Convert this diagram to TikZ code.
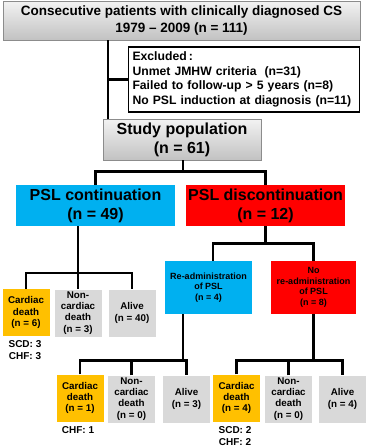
\documentclass[tikz,border=0pt]{standalone}
\usepackage{fontspec}
\setmainfont{Liberation Sans}
\usetikzlibrary{calc}
\definecolor{cyanbox}{HTML}{00B0F0}
\definecolor{redbox}{HTML}{FF0000}
\definecolor{orangebox}{HTML}{FFC000}
\definecolor{greyfill}{HTML}{D9D9D9}
\begin{document}
\begin{tikzpicture}[x=1pt,y=-1pt]
\tikzset{
  base/.style={inner sep=0pt, align=center, font=\bfseries},
  conn/.style={line width=2.6pt, line join=miter},
  headbox/.style={base, draw=black!45, line width=0.6pt, top color=black!5, bottom color=black!24},
  bigtxt/.style={font=\fontsize{16}{19}\selectfont\bfseries},
  bigblue/.style={base, fill=cyanbox, bigtxt, minimum width=159pt, minimum height=41pt},
  bigred/.style={base, fill=redbox, bigtxt, minimum width=159pt, minimum height=41pt},
  midtxt/.style={font=\fontsize{9}{10.6}\selectfont\bfseries},
  child/.style={base, minimum width=47pt, minimum height=47pt, font=\fontsize{9.8}{11.2}\selectfont\bfseries},
  cardbox/.style={child, fill=orangebox},
  greybox/.style={child, fill=greyfill},
  note/.style={base, font=\fontsize{10}{12.5}\selectfont\bfseries}
}
\useasboundingbox (0,0) rectangle (367,447);

\node[headbox, minimum width=357pt, minimum height=39pt, font=\fontsize{13.5}{16.5}\selectfont\bfseries] (top) at (181.5,20.5)
  {Consecutive patients with clinically diagnosed CS\\1979 -- 2009 (n = 111)};
\node[draw=black, line width=1.7pt, fill=white, inner xsep=4pt, inner ysep=0pt, text width=223pt, minimum height=65pt, align=left, font=\fontsize{12.2}{14.5}\selectfont\bfseries] (ex) at (244,79.5)
  {Excluded\,:\\Unmet JMHW criteria\ \ (n=31)\\Failed to follow-up > 5 years (n=8)\\No PSL induction at diagnosis (n=11)};
\node[headbox, bigtxt, minimum width=158pt, minimum height=41pt] (sp) at (182,139.5) {Study population\\(n = 61)};

\node[bigblue] (pc) at (95.5,205.5) {PSL continuation\\(n = 49)};
\node[bigred] (pd) at (265.5,205.5) {PSL discontinuation\\(n = 12)};

\node[cardbox] (cd1) at (26,312.5) {Cardiac\\death\\(n = 6)};
\node[greybox] (nc1) at (78,313) {Non-\\cardiac\\death\\(n = 3)};
\node[greybox] (al1) at (132,313) {Alive\\(n = 40)};
\node[note] (n1) at (25,350) {SCD: 3\\CHF: 3};

\node[base, fill=cyanbox, midtxt, minimum width=87pt, minimum height=53pt] (ra) at (208.5,287.5) {Re-administration\\of PSL\\(n = 4)};
\node[base, fill=redbox, midtxt, minimum width=85pt, minimum height=53pt] (nr) at (313.5,287.5) {No\\re-administration\\of PSL\\(n = 8)};

\node[cardbox] (cd2) at (80,398) {Cardiac\\death\\(n = 1)};
\node[greybox] (nc2) at (131.5,399) {Non-\\cardiac\\death\\(n = 0)};
\node[greybox] (al2) at (186.5,399) {Alive\\(n = 3)};
\node[note] (n2) at (78,430) {CHF: 1};

\node[cardbox] (cd3) at (236.5,398) {Cardiac\\death\\(n = 4)};
\node[greybox] (nc3) at (288.5,399) {Non-\\cardiac\\death\\(n = 0)};
\node[greybox] (al3) at (342.5,399) {Alive\\(n = 4)};
\node[note] (n3) at (235,436) {SCD: 2\\CHF: 2};

% connectors
\coordinate (trunk) at ($(top.south)+(-73.5,0)$);
\draw[conn] (top.south -| trunk) -- (sp.north -| trunk);
\draw[conn] (ex.west) -- (ex.west -| trunk);

\coordinate (j1) at ($(sp.south)+(1,11)$);
\draw[conn] (sp.south -| j1) -- (j1);
\draw[conn] (pc.north) |- (j1) -| (pd.north);

\draw[conn] (pc.south -| nc1.north) -- (nc1.north);
\draw[conn] (cd1.north) -- ++(0,-16) -| (al1.north);

\coordinate (j2) at ($(pd.south)+(0,17)$);
\draw[conn] (pd.south) -- (j2);
\draw[conn] ($(ra.north)+(4.5,0)$) |- (j2) -| (nr.north);

\coordinate (j3) at ($(ra.south)+(-25.5,46)$);
\draw[conn] (ra.south -| j3) -- (j3);
\draw[conn] (cd2.north) |- (j3) -| (al2.north);
\draw[conn] (nc2.north) -- (nc2.north |- j3);

\coordinate (j4) at ($(nr.south)+(0,46)$);
\draw[conn] (nr.south) -- (j4);
\draw[conn] (cd3.north) |- (j4) -| (al3.north);
\draw[conn] (nc3.north) -- (nc3.north |- j4);
\end{tikzpicture}
\end{document}
